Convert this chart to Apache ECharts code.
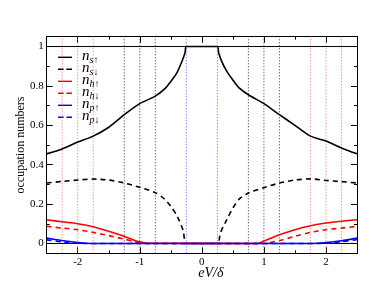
<!DOCTYPE html>
<html><head><meta charset="utf-8">
<script src="https://cdn.jsdelivr.net/npm/echarts@6/dist/echarts.min.js"></script>
<style>html,body{margin:0;padding:0;background:#fff}#c{width:374px;height:300px}</style>
</head><body><div id="c"></div>
<script>
// ---- data ----
const xTickLabels = [-2, -1, 0, 1, 2];
const xMinorTicks = [-1.5, -0.5, 0.5, 1.5];
const yTickLabels = [0, 0.2, 0.4, 0.6, 0.8, 1];
const yMinorTicks = [0.1, 0.3, 0.5, 0.7, 0.9];

const nsUpX = [-2.5,-2.25,-2,-1.75,-1.5,-1.25,-1,-0.75,-0.6,-0.5,-0.4,-0.32,-0.27,-0.25,0.25,0.27,0.32,0.4,0.5,0.6,0.75,1,1.25,1.5,1.75,2,2.25,2.5];
const nsUpY = [0.455,0.48,0.515,0.545,0.59,0.654,0.71,0.748,0.785,0.823,0.868,0.925,0.97,1.0,1.0,0.97,0.925,0.875,0.83,0.79,0.755,0.71,0.654,0.6,0.545,0.52,0.485,0.455];

const nsDnX = [-2.5,-2.25,-2,-1.75,-1.5,-1.25,-1,-0.75,-0.6,-0.5,-0.4,-0.3,-0.25,0.25,0.3,0.4,0.5,0.6,0.75,1,1.25,1.5,1.75,2,2.25,2.5];
const nsDnY = [0.307,0.315,0.322,0.327,0.322,0.307,0.285,0.258,0.225,0.188,0.14,0.065,0,0,0.055,0.12,0.18,0.225,0.256,0.283,0.307,0.322,0.328,0.32,0.314,0.307];

const nhUpX = [-2.5,-2.25,-2,-1.75,-1.5,-1.25,-1.1,-1,-0.9,0.9,1,1.1,1.25,1.5,1.75,2,2.25,2.5];
const nhUpY = [0.12,0.11,0.1,0.085,0.062,0.036,0.018,0.008,0.002,0,0.012,0.025,0.044,0.07,0.09,0.104,0.113,0.12];

const nhDnX = [-2.5,-2.25,-2,-1.75,-1.5,-1.25,-1.1,-1,-0.9,1,1.1,1.25,1.5,1.75,2,2.25,2.5];
const nhDnY = [0.087,0.078,0.07,0.056,0.04,0.022,0.01,0.004,0,0,0.005,0.015,0.036,0.056,0.07,0.078,0.087];

const npUpX = [-2.5,-2.25,-2,-1.75,1.75,2,2.25,2.5];
const npUpY = [0.027,0.015,0.005,0,0,0.005,0.014,0.027];

const npDnX = [-2.5,-2.25,-2,-1.9,1.9,2,2.25,2.5];
const npDnY = [0.018,0.008,0.002,0,0,0.002,0.009,0.019];

const redLines = [-2.25,-2,-1.75,1.75,2,2.25];
const blackLines = [-1.25,-1,-0.75,0.75,1,1.25];
const blueLines = [-0.25,0.25];
const hLines = [0, 1];

const seriesNames = ['s↑','s↓','h↑','h↓','p↑','p↓'];
// ---------------
const zip = (xs, ys) => xs.map((x, i) => [x, ys[i]]);
const font = 'Liberation Serif';
const chart = echarts.init(document.getElementById('c'), null, {renderer: 'canvas'});

function axisX(pos, vals, len, labels) {
  return {
    type: 'value', position: pos, min: -2.5, max: 2.5,
    axisLine: {show: true, onZero: false, lineStyle: {color: '#000', width: 1}},
    axisTick: {show: true, inside: true, length: len, customValues: vals, lineStyle: {color: '#000', width: 1}},
    axisLabel: labels ? {show: true, customValues: vals, margin: 3, fontFamily: font, fontSize: 11, color: '#000',
      formatter: v => String(v)} : {show: false},
    splitLine: {show: false}
  };
}
function axisY(pos, vals, len, labels) {
  return {
    type: 'value', position: pos, min: -0.05, max: 1.05,
    axisLine: {show: true, onZero: false, lineStyle: {color: '#000', width: 1}},
    axisTick: {show: true, inside: true, length: len, customValues: vals, lineStyle: {color: '#000', width: 1}},
    axisLabel: labels ? {show: true, customValues: vals, margin: 3, fontFamily: font, fontSize: 11, color: '#000',
      formatter: v => String(v)} : {show: false},
    splitLine: {show: false}
  };
}

const xMain = axisX('bottom', xTickLabels, 6, true);
xMain.name = 'eV/δ';
xMain.nameLocation = 'middle';
xMain.nameGap = 13;
xMain.nameMoveOverlap = false;
xMain.nameTextStyle = {fontFamily: font, fontStyle: 'italic', fontSize: 14, color: '#000', verticalAlign: 'top', padding: [0,0,0,18]};
const yMain = axisY('left', yTickLabels, 6, true);
yMain.name = 'occupation numbers';
yMain.nameLocation = 'middle';
yMain.nameGap = 20;
yMain.nameMoveOverlap = false;
yMain.nameTextStyle = {fontFamily: font, fontSize: 12, color: '#000'};

const guide = (pts, color, dotted) => ({
  type: 'line', data: pts, showSymbol: false, symbol: 'none', silent: true, z: 1, animation: false,
  lineStyle: {color: color, width: 1, type: dotted ? [1, 2] : 'solid'}, itemStyle: {color: color}
});
const vGuides = [].concat(
  redLines.map(v => guide([[v, -0.05], [v, 1.05]], '#ff6a6a', true)),
  blackLines.map(v => guide([[v, -0.05], [v, 1.05]], '#333333', true)),
  blueLines.map(v => guide([[v, -0.05], [v, 1.05]], '#5a5aff', true)),
  hLines.map(v => guide([[-2.5, v], [2.5, v]], '#000000', false))
);

function line(name, xs, ys, color, dashed) {
  return {
    name: name, type: 'line', data: zip(xs, ys), showSymbol: false, symbol: 'none',
    smooth: 0.25, animation: false,
    lineStyle: {color: color, width: 1.6, type: dashed ? [5, 4] : 'solid'},
    itemStyle: {color: color}, z: 3
  };
}

const solidIcon = 'path://M0,0L20,0L20,2L0,2Z';
const dashIcon = 'path://M0,0L8,0L8,2L0,2Z M12,0L20,0L20,2L12,2Z';

const option = {
  animation: false,
  backgroundColor: '#fff',
  grid: {left: 46.7, right: 17, top: 36.7, bottom: 46.7, containLabel: false},
  xAxis: [xMain, axisX('bottom', xMinorTicks, 3, false), axisX('top', xTickLabels, 6, false), axisX('top', xMinorTicks, 3, false)],
  yAxis: [yMain, axisY('left', yMinorTicks, 3, false), axisY('right', yTickLabels, 6, false), axisY('right', yMinorTicks, 3, false)],
  legend: {
    orient: 'vertical', left: 58, top: 48.8, itemWidth: 14, itemHeight: 2, itemGap: -5,
    padding: 0,
    data: seriesNames.map((n, i) => ({name: n, icon: i % 2 ? dashIcon : solidIcon})),
    formatter: n => '{n|n}{s|' + n + '}',
    textStyle: {
      rich: {
        n: {fontFamily: font, fontStyle: 'italic', fontSize: 15, color: '#000', lineHeight: 17, verticalAlign: 'top', padding: [0, 0, 0, 5]},
        s: {fontFamily: font, fontStyle: 'italic', fontSize: 10, color: '#000', lineHeight: 17, verticalAlign: 'bottom'}
      }
    }
  },
  series: vGuides.concat([
    line(seriesNames[0], nsUpX, nsUpY, '#000', false),
    line(seriesNames[1], nsDnX, nsDnY, '#000', true),
    line(seriesNames[2], nhUpX, nhUpY, '#f00', false),
    line(seriesNames[3], nhDnX, nhDnY, '#f00', true),
    line(seriesNames[4], npUpX, npUpY, '#00f', false),
    line(seriesNames[5], npDnX, npDnY, '#00f', true)
  ])
};
chart.setOption(option);
</script></body></html>
